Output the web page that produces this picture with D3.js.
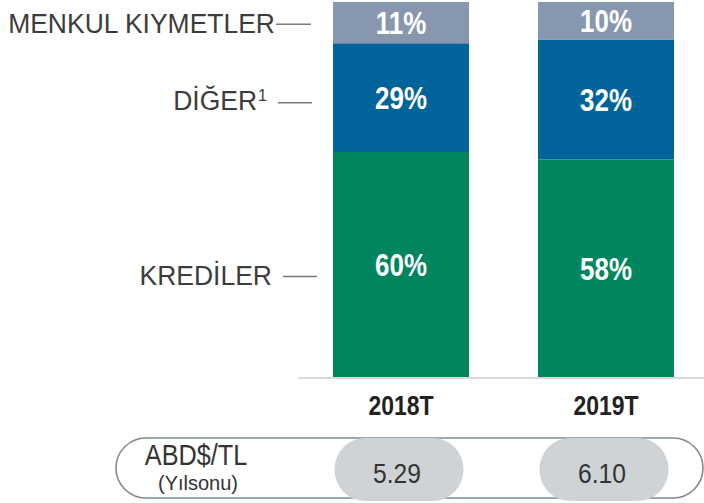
<!DOCTYPE html>
<html>
<head>
<meta charset="utf-8">
<script src="https://cdn.jsdelivr.net/npm/d3@7"></script>
<style>
  body { margin: 0; background: #fff; }
  svg { display: block; font-family: "Liberation Sans", Arial, sans-serif; }
</style>
</head>
<body>
<div id="chart"></div>
<script>
// chart data
const categories = ["2018T", "2019T"];
const seriesNames = ["KREDİLER", "DİĞER", "MENKUL KIYMETLER"];
const krediler = [60, 58];
const diger = [29, 32];
const menkul = [11, 10];
const fxLabel = "ABD$/TL";
const fxSub = "(Yılsonu)";
const fxValues = ["5.29", "6.10"];

const colors = ["#00855f", "#00649a", "#8797b0"];

const width = 704, height = 503;
const margins = { top: 2, bottom: 126 };
const baseY = height - margins.bottom; // 377

const svg = d3.select("#chart").append("svg")
    .attr("width", width)
    .attr("height", height);

// narrow-looking text: regular font squeezed horizontally
function narrowText(parent, x, y, sx, txt) {
    return parent.append("text")
        .attr("transform", `translate(${x},${y}) scale(${sx},1)`)
        .text(txt);
}

// scales
const xScale = d3.scaleBand()
    .domain(categories)
    .range([298.5, 708.5])
    .paddingInner(0.3366)
    .paddingOuter(0.1683);

const yScale = d3.scaleLinear()
    .domain([0, 100])
    .range([baseY, margins.top]);

// stack the series
const rows = categories.map((c, i) => ({
    cat: c,
    "KREDİLER": krediler[i],
    "DİĞER": diger[i],
    "MENKUL KIYMETLER": menkul[i]
}));
const stacked = d3.stack().keys(seriesNames)(rows);

// baseline
svg.append("line")
    .attr("x1", xScale.range()[0])
    .attr("x2", width)
    .attr("y1", baseY + 1)
    .attr("y2", baseY + 1)
    .attr("stroke", "#d9d9d9")
    .attr("stroke-width", 2);

const layers = svg.selectAll(".layer")
    .data(stacked)
    .join("g")
    .attr("class", "layer")
    .attr("fill", (d, i) => colors[i]);

layers.selectAll("rect")
    .data(d => d)
    .join("rect")
    .attr("x", d => xScale(d.data.cat))
    .attr("width", xScale.bandwidth())
    .attr("y", d => yScale(d[1]))
    .attr("height", d => yScale(d[0]) - yScale(d[1]));

// percentage labels
layers.each(function (s) {
    const g = d3.select(this);
    s.forEach(d => {
        narrowText(g,
            xScale(d.data.cat) + xScale.bandwidth() / 2,
            (yScale(d[0]) + yScale(d[1])) / 2 + 11.5,
            0.81, (d[1] - d[0]) + "%")
            .attr("text-anchor", "middle")
            .attr("fill", "#fff")
            .attr("font-weight", "bold")
            .attr("font-size", 32);
    });
});

// category labels
categories.forEach(c => {
    narrowText(svg, xScale(c) + xScale.bandwidth() / 2, 415, 0.82, c)
        .attr("text-anchor", "middle")
        .attr("fill", "#222")
        .attr("font-weight", "bold")
        .attr("font-size", 28);
});

// series labels on the left, with short connector lines
const firstBar = stacked.map(s => s[0]);
const labelSpec = [
    { text: "KREDİLER", end: 272, lx1: 283, lx2: 317, dy: 20, ly: 12 },
    { text: "DİĞER", sup: "1", end: 267, lx1: 278, lx2: 312, dy: 12, ly: 5 },
    { text: "MENKUL KIYMETLER", end: 275, lx1: 276, lx2: 311, dy: 10.5, ly: 1.5 }
];
labelSpec.forEach((s, i) => {
    const cy = (yScale(firstBar[i][0]) + yScale(firstBar[i][1])) / 2;
    const t = narrowText(svg, s.end, cy + s.dy, 0.946, s.text)
        .attr("text-anchor", "end")
        .attr("fill", "#3c3c3c")
        .attr("font-size", 28);
    if (s.sup) {
        t.append("tspan")
            .attr("font-size", 17)
            .attr("dx", 1)
            .attr("dy", -9)
            .text(s.sup);
    }
    svg.append("line")
        .attr("x1", s.lx1)
        .attr("x2", s.lx2)
        .attr("y1", cy + s.ly)
        .attr("y2", cy + s.ly)
        .attr("stroke", "#7a7a7a")
        .attr("stroke-width", 1.5);
});

// exchange rate strip
svg.append("rect")
    .attr("x", 116)
    .attr("y", 438)
    .attr("width", 587)
    .attr("height", 60)
    .attr("rx", 30)
    .attr("fill", "none")
    .attr("stroke", "#7f8a95")
    .attr("stroke-width", 1.6);

narrowText(svg, 196, 465, 0.87, fxLabel)
    .attr("text-anchor", "middle")
    .attr("fill", "#333")
    .attr("font-size", 29);

narrowText(svg, 198, 490, 1.0, fxSub)
    .attr("text-anchor", "middle")
    .attr("fill", "#333")
    .attr("font-size", 20);

const pillW = 129, pillH = 63;
svg.selectAll(".pill")
    .data(categories)
    .join("rect")
    .attr("class", "pill")
    .attr("x", d => xScale(d) + xScale.bandwidth() / 2 - pillW / 2 - 2)
    .attr("y", 438)
    .attr("width", pillW)
    .attr("height", pillH)
    .attr("rx", 31)
    .attr("fill", "#d0d3d6");

categories.forEach((c, i) => {
    narrowText(svg, xScale(c) + xScale.bandwidth() / 2 - 4, 483, 0.88, fxValues[i])
        .attr("text-anchor", "middle")
        .attr("fill", "#333")
        .attr("font-size", 28);
});
</script>
</body>
</html>
